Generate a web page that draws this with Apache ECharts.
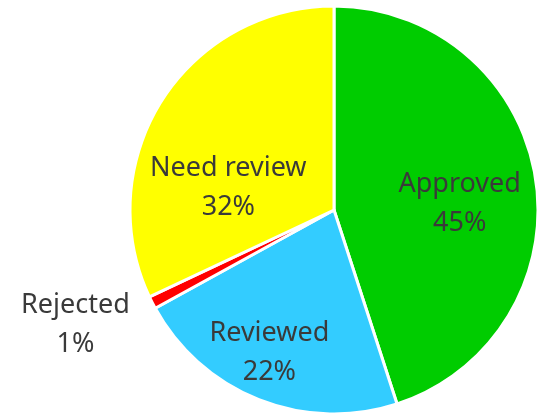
<!DOCTYPE html>
<html>
<head>
<meta charset="utf-8">
<script src="https://cdn.jsdelivr.net/npm/echarts@6/dist/echarts.min.js"></script>
<style>
html,body{margin:0;padding:0;background:#fff;}
#chart{width:541px;height:414px;}
</style>
</head>
<body>
<div id="chart"></div>
<script>
const categories = ["Approved", "Reviewed", "Rejected", "Need review"];
const values = [45, 22, 1, 32];
const colors = ["#00CC00", "#33CCFF", "#FF0000", "#FFFF00"];
const labelOffsets = [[22, 10], [-26, 45], [-165, 67], [-17, 34]];

const chart = echarts.init(document.getElementById('chart'), null, {renderer: 'canvas'});
chart.setOption({
  animation: false,
  series: [{
    type: 'pie',
    center: [334, 210],
    radius: [0, 204],
    startAngle: 90,
    clockwise: true,
    avoidLabelOverlap: false,
    itemStyle: { borderColor: '#ffffff', borderWidth: 3 },
    label: {
      show: true,
      position: 'inside',
      formatter: p => p.name + '\n' + Math.round(p.percent) + '%',
      color: '#3a3a3a',
      fontFamily: 'Noto Sans',
      fontSize: 27,
      lineHeight: 39,
      align: 'center'
    },
    labelLine: { show: false },
    data: categories.map((c, i) => ({
      name: c,
      value: values[i],
      itemStyle: { color: colors[i] },
      label: { offset: labelOffsets[i] }
    }))
  }]
});
</script>
</body>
</html>
